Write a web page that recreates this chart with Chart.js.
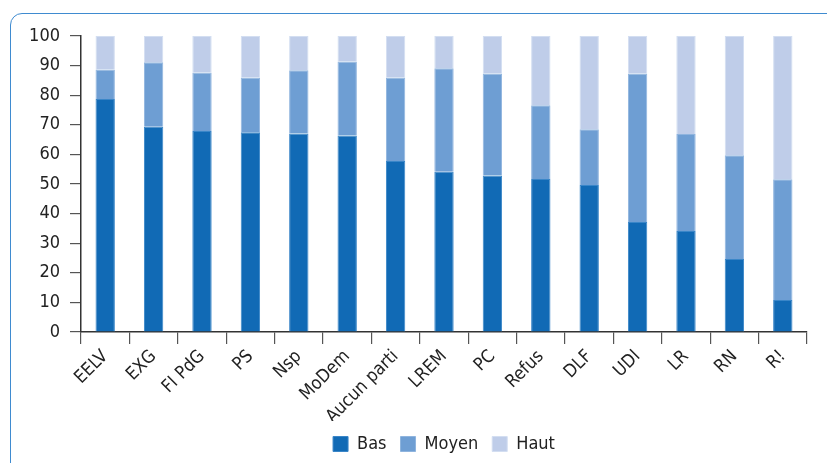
<!DOCTYPE html>
<html>
<head>
<meta charset="utf-8">
<script src="https://cdn.jsdelivr.net/npm/chart.js@4/dist/chart.umd.min.js"></script>
<style>
  body { margin: 0; background: #fff; }
  #wrap { position: relative; width: 827px; height: 463px; overflow: hidden; }
  #frame { position: absolute; left: 10px; top: 13px; width: 900px; height: 520px;
           border: 1.5px solid #3f8bd0; border-radius: 12px; box-sizing: border-box; }
  #box { position: absolute; left: 0; top: 0; width: 827px; height: 463px; }
</style>
</head>
<body>
<div id="wrap">
  <div id="frame"></div>
  <div id="box"><canvas id="myChart"></canvas></div>
</div>
<script>
  // categories and shares (%)
  const partis = ['EELV', 'EXG', 'FI PdG', 'PS', 'Nsp', 'MoDem', 'Aucun parti', 'LREM', 'PC', 'Refus', 'DLF', 'UDI', 'LR', 'RN', 'R!'];
  const bas   = [78.7, 69.3, 67.9, 67.5, 67.1, 66.4, 57.8, 54.1, 52.9, 51.7, 49.7, 37.2, 34.1, 24.7, 10.8];
  const moyen = [10.0, 21.8, 19.8, 18.5, 21.3, 25.0, 28.2, 35.0, 34.4, 24.9, 18.8, 50.1, 32.8, 35.0, 40.8];
  const haut  = [11.3, 8.9, 12.3, 14.0, 11.6, 8.6, 14.0, 10.9, 12.7, 23.4, 31.5, 12.7, 33.1, 40.3, 48.4];
  const yTicks = [0, 10, 20, 30, 40, 50, 60, 70, 80, 90, 100];

  const fontFamily = "'DejaVu Sans Condensed', 'Liberation Sans', sans-serif";

  const data = {
    labels: partis,
    datasets: [
      { label: 'Bas',   data: bas,   backgroundColor: '#116ab5', borderColor: '#3a86c8', borderWidth: 1 },
      { label: 'Moyen', data: moyen, backgroundColor: '#6e9ed3', borderColor: '#8fb4de', borderWidth: 1 },
      { label: 'Haut',  data: haut,  backgroundColor: '#bfcde9', borderColor: '#d3def1', borderWidth: 1 }
    ]
  };

  const config = {
    type: 'bar',
    data: data,
    options: {
      responsive: true,
      maintainAspectRatio: false,
      animation: false,
      datasets: {
        bar: { categoryPercentage: 1, barPercentage: 0.4 }
      },
      layout: { padding: { left: 0, right: 20, top: 36, bottom: 0 } },
      plugins: {
        tooltip: { enabled: false },
        legend: {
          position: 'bottom',
          fullSize: false,   // centre the legend under the plot, not the page
          labels: {
            boxWidth: 15,
            boxHeight: 15,
            padding: 14,
            color: '#222',
            font: { family: fontFamily, size: 18 }
          }
        }
      },
      scales: {
        x: {
          stacked: true,
          grid: { display: true, drawOnChartArea: false, offset: true, tickLength: 12, color: '#555', lineWidth: 1.2 },
          border: { color: '#333', width: 1.5 },
          ticks: {
            autoSkip: false,
            minRotation: 45,
            maxRotation: 45,
            padding: 2,
            color: '#222',
            font: { family: fontFamily, size: 18 }
          },
          afterFit: function (scale) { scale.height = 89; }
        },
        y: {
          stacked: true,
          min: 0,
          max: 100,
          afterBuildTicks: function (scale) { scale.ticks = yTicks.map(v => ({ value: v })); },
          grid: { display: true, drawOnChartArea: false, tickLength: 11, color: '#555', lineWidth: 1.2 },
          border: { color: '#333', width: 1.5 },
          ticks: {
            padding: 10,
            color: '#222',
            font: { family: fontFamily, size: 18 }
          },
          afterFit: function (scale) { scale.width = 81; }
        }
      }
    }
  };

  const myChart = new Chart(document.getElementById('myChart'), config);
</script>
</body>
</html>
